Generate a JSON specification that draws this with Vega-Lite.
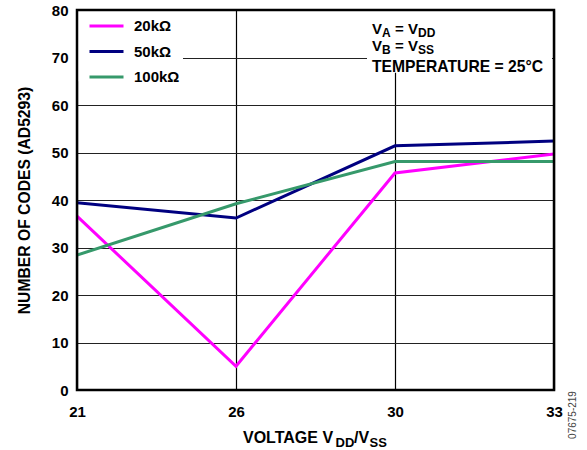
{
  "$schema": "https://vega.github.io/schema/vega-lite/v6.json",
  "width": 477,
  "height": 380,
  "autosize": {"type": "none"},
  "padding": {"left": 77, "top": 10, "right": 33, "bottom": 60},
  "background": "white",
  "config": {
    "font": "Liberation Sans",
    "view": {"stroke": null},
    "text": {"font": "Liberation Sans", "fontWeight": "bold", "fontSize": 15, "color": "black"}
  },
  "layer": [
    {
      "data": {
        "values": [
          {"voltage": "21", "series": "20kΩ", "codes": 36.6},
          {"voltage": "26", "series": "20kΩ", "codes": 5.0},
          {"voltage": "30", "series": "20kΩ", "codes": 45.7},
          {"voltage": "33", "series": "20kΩ", "codes": 49.7},
          {"voltage": "21", "series": "50kΩ", "codes": 39.4},
          {"voltage": "26", "series": "50kΩ", "codes": 36.2},
          {"voltage": "30", "series": "50kΩ", "codes": 51.4},
          {"voltage": "33", "series": "50kΩ", "codes": 52.4},
          {"voltage": "21", "series": "100kΩ", "codes": 28.4},
          {"voltage": "26", "series": "100kΩ", "codes": 39.2},
          {"voltage": "30", "series": "100kΩ", "codes": 48.1},
          {"voltage": "33", "series": "100kΩ", "codes": 48.1}
        ]
      },
      "mark": {"type": "line", "strokeWidth": 3, "clip": true},
      "encoding": {
        "x": {
          "field": "voltage", "type": "ordinal",
          "scale": {"type": "point", "padding": 0},
          "axis": {
            "title": null, "labelAngle": 0, "labelFontSize": 15, "labelFontWeight": "bold",
            "labelFont": "Liberation Sans", "labelColor": "black", "domain": false, "ticks": false,
            "labelPadding": 14, "grid": true, "gridColor": "black", "gridWidth": 1.2
          }
        },
        "y": {
          "field": "codes", "type": "quantitative",
          "scale": {"domain": [0, 80], "nice": false},
          "axis": {
            "values": [0, 10, 20, 30, 40, 50, 60, 70, 80],
            "title": "NUMBER OF CODES (AD5293)", "titleFontSize": 15.7, "titleFontWeight": "bold",
            "titleFont": "Liberation Sans", "titleColor": "black", "titlePadding": 19,
            "labelFontSize": 15, "labelFontWeight": "bold", "labelFont": "Liberation Sans",
            "labelColor": "black", "labelPadding": 9, "domain": false, "ticks": false,
            "grid": true, "gridColor": "#222", "gridWidth": 1.2
          }
        },
        "color": {
          "field": "series", "type": "nominal",
          "scale": {"domain": ["20kΩ", "50kΩ", "100kΩ"], "range": ["#FF00FF", "#000080", "#36996B"]},
          "legend": {
            "title": null, "orient": "none", "legendX": 22, "legendY": 8.5, "padding": 0,
            "symbolType": "M-3.4,0H3.4", "symbolSize": 100, "symbolStrokeWidth": 3,
            "labelFontSize": 15, "labelFont": "Liberation Sans", "labelFontWeight": "bold",
            "labelColor": "black", "labelOffset": 20, "rowPadding": 9.5
          }
        }
      }
    },
    {
      "data": {"values": [{}]},
      "mark": {"type": "rect", "fill": "white", "xOffset": 1, "x2Offset": 106},
      "encoding": {
        "x": {"datum": "21", "type": "ordinal"},
        "x2": {"datum": "21"},
        "y": {"datum": 80, "type": "quantitative"},
        "y2": {"datum": 65}
      }
    },
    {
      "data": {"values": [{}]},
      "mark": {"type": "rect", "fill": "white", "xOffset": -28, "x2Offset": -2},
      "encoding": {
        "x": {"datum": "30", "type": "ordinal"},
        "x2": {"datum": "33"},
        "y": {"datum": 80, "type": "quantitative"},
        "y2": {"datum": 66.8}
      }
    },
    {
      "data": {"values": [{}]},
      "layer": [
        {"mark": {"type": "text", "text": "V", "align": "left", "dx": -23, "dy": 19}},
        {"mark": {"type": "text", "text": "A", "align": "left", "fontSize": 12, "dx": -13, "dy": 23}},
        {"mark": {"type": "text", "text": "= V", "align": "left", "dx": 0, "dy": 19}},
        {"mark": {"type": "text", "text": "DD", "align": "left", "fontSize": 12, "dx": 23, "dy": 23}},
        {"mark": {"type": "text", "text": "V", "align": "left", "dx": -23, "dy": 36}},
        {"mark": {"type": "text", "text": "B", "align": "left", "fontSize": 12, "dx": -13, "dy": 40}},
        {"mark": {"type": "text", "text": "= V", "align": "left", "dx": 0, "dy": 36}},
        {"mark": {"type": "text", "text": "SS", "align": "left", "fontSize": 12, "dx": 23, "dy": 40}},
        {"mark": {"type": "text", "text": "TEMPERATURE = 25°C", "align": "left", "fontSize": 15.7, "dx": -23, "dy": 57}}
      ],
      "encoding": {
        "x": {"datum": "30", "type": "ordinal"},
        "y": {"datum": 80, "type": "quantitative"}
      }
    },
    {
      "data": {"values": [{}]},
      "mark": {"type": "rect", "fill": null, "stroke": "black", "strokeWidth": 2.5},
      "encoding": {
        "x": {"datum": "21", "type": "ordinal"},
        "x2": {"datum": "33"},
        "y": {"datum": 0, "type": "quantitative"},
        "y2": {"datum": 80}
      }
    },
    {
      "data": {"values": [{}]},
      "layer": [
        {"mark": {"type": "text", "text": "VOLTAGE V", "align": "left", "fontSize": 16, "dx": 7, "dy": 48}},
        {"mark": {"type": "text", "text": "DD", "align": "left", "fontSize": 13, "dx": 99.5, "dy": 53}},
        {"mark": {"type": "text", "text": "/V", "align": "left", "fontSize": 16, "dx": 118, "dy": 48}},
        {"mark": {"type": "text", "text": "SS", "align": "left", "fontSize": 13, "dx": 133.5, "dy": 53}}
      ],
      "encoding": {
        "x": {"datum": "26", "type": "ordinal"},
        "y": {"datum": 0, "type": "quantitative"}
      }
    },
    {
      "data": {"values": [{}]},
      "mark": {"type": "text", "text": "07675-219", "angle": 270, "align": "center", "baseline": "middle",
               "fontSize": 10, "fontWeight": "normal", "color": "#444", "dx": -25, "dy": 19},
      "encoding": {
        "x": {"datum": "33", "type": "ordinal"},
        "y": {"datum": 0, "type": "quantitative"}
      }
    }
  ]
}
